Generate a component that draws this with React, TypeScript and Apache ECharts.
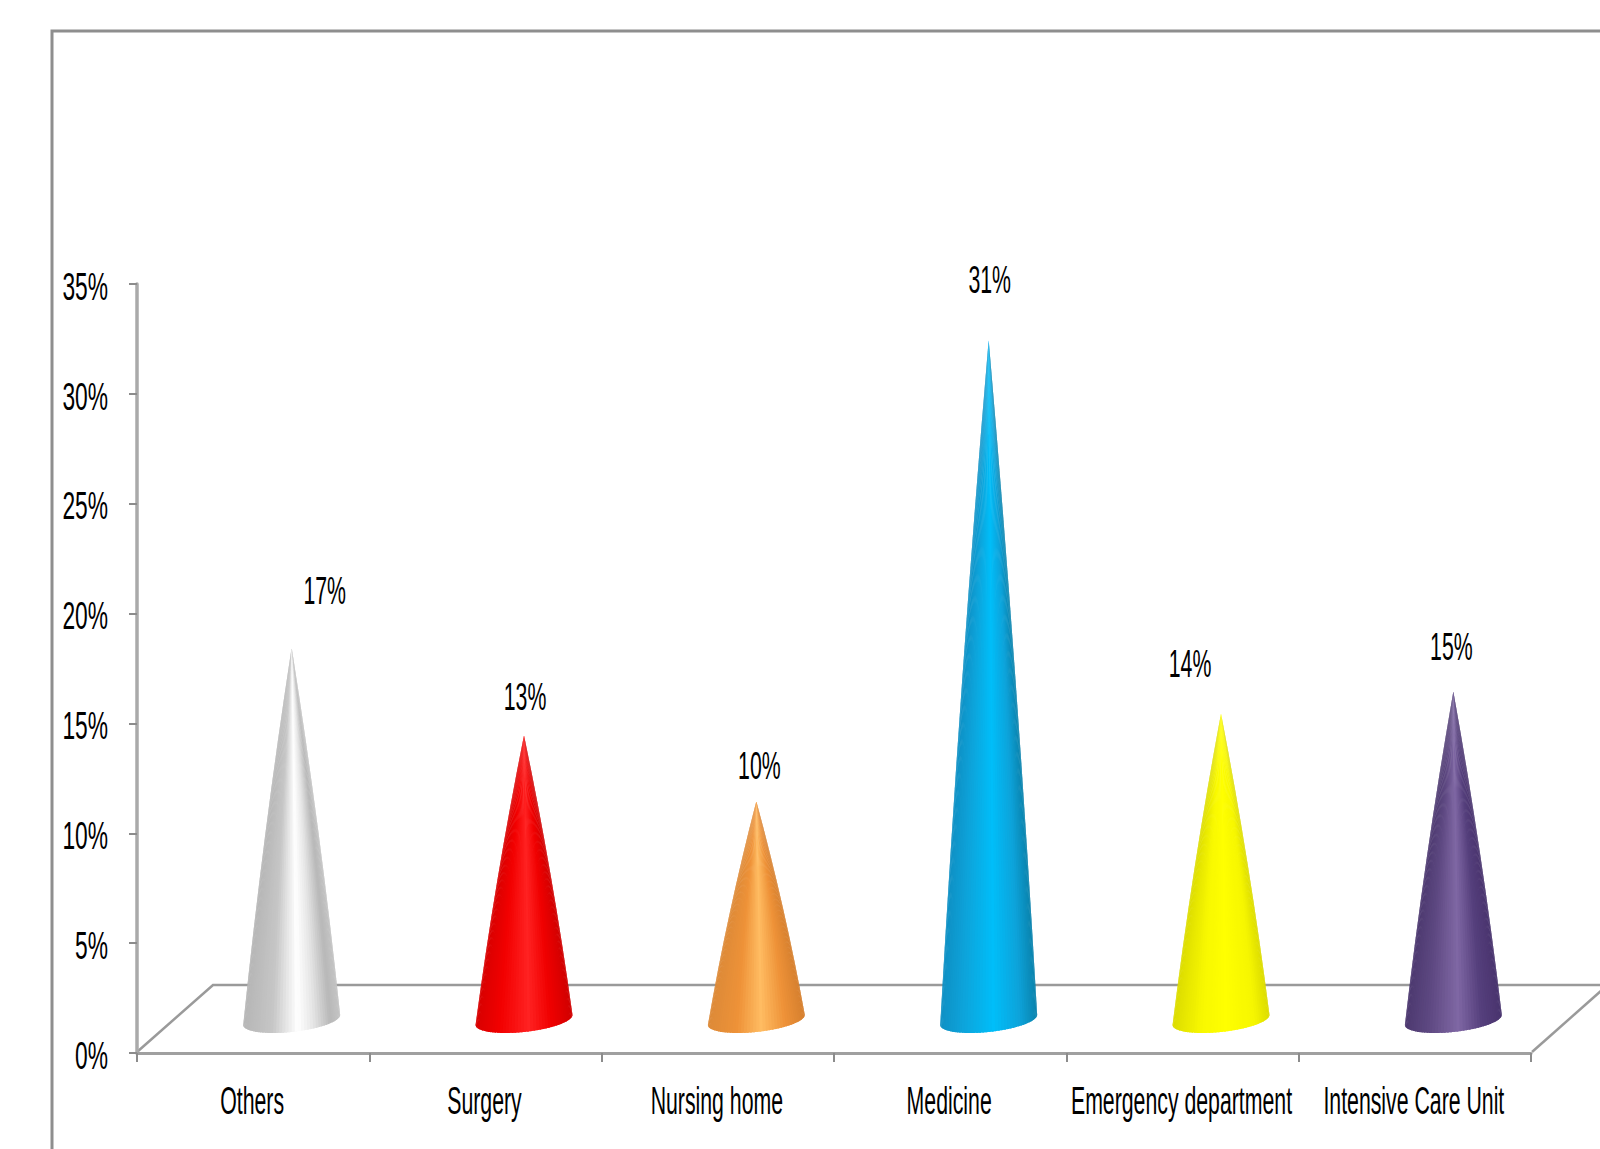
import React, { useEffect, useRef } from "react";
import * as echarts from "echarts";

// Share of cases by referring department, in percent.
const categories = [
  "Others",
  "Surgery",
  "Nursing home",
  "Medicine",
  "Emergency department",
  "Intensive Care Unit",
];
const shares = [17, 13, 10, 31, 14, 15];
const yTicks = [0, 5, 10, 15, 20, 25, 30, 35];

// Horizontal shading of each cone: [position across the base, colour].
const coneShades: [number, string][][] = [
  [[0, "#b6b6b6"], [0.3, "#c6c6c6"], [0.56, "#ffffff"], [0.72, "#e6e6e6"], [0.9, "#b8b8b8"], [1, "#c4c4c4"]],
  [[0, "#d80000"], [0.25, "#f20000"], [0.55, "#ff2222"], [0.78, "#f00000"], [1, "#d00000"]],
  [[0, "#dd8a38"], [0.3, "#ee9238"], [0.55, "#ffbc62"], [0.8, "#ee9238"], [1, "#d6802f"]],
  [[0, "#0f90c4"], [0.25, "#0da5dc"], [0.55, "#00bef9"], [0.82, "#0da3da"], [1, "#0a83ad"]],
  [[0, "#dcdc00"], [0.3, "#f8f800"], [0.55, "#ffff00"], [0.85, "#f6f600"], [1, "#dcdc00"]],
  [[0, "#4d3970"], [0.25, "#5e4982"], [0.55, "#7f67a4"], [0.8, "#553f7c"], [1, "#49346e"]],
];

// Value labels sit loosely around the apex of each cone.
const labelNudges: [number, number][] = [
  [33, -57],
  [1, -39],
  [3, -36],
  [1, -61],
  [-31, -50],
  [-2, -45],
];

const FONT = '"Liberation Sans Narrow", "Liberation Sans", sans-serif';
const TEXT_SIZE = 38;

const DEPTH_X = 38.5;
const DEPTH_Y = -32;
const BASE_RX = 48.5;
const BASE_RY = 12;
const BASE_TILT = 5;
const WEDGES = 48;
const SIDE_STEPS = 8;
const BULGE = 0.2;

function hexToRgb(hex: string): number[] {
  return [1, 3, 5].map((k) => parseInt(hex.slice(k, k + 2), 16));
}

function shadeAt(stops: [number, string][], t: number): string {
  let i = 0;
  while (i < stops.length - 2 && t > stops[i + 1][0]) i++;
  const [p0, c0] = stops[i];
  const [p1, c1] = stops[i + 1];
  const f = Math.min(1, Math.max(0, (t - p0) / (p1 - p0)));
  const a = hexToRgb(c0);
  const b = hexToRgb(c1);
  return `rgb(${a.map((v, k) => Math.round(v + (b[k] - v) * f)).join(",")})`;
}

function squeezedText(text: string, x: number, y: number, align: string, squeeze: number) {
  return {
    type: "text",
    x,
    y,
    scaleX: squeeze,
    z2: 5,
    style: {
      text,
      x: 0,
      y: 0,
      align,
      verticalAlign: "middle",
      fontFamily: FONT,
      fontSize: TEXT_SIZE,
      fill: "#000000",
    },
  };
}

function renderCone(params: any, api: any) {
  const index = params.dataIndex;
  const value = api.value(1);
  const top = api.coord([index, value]);
  const zero = api.coord([index, 0]);
  const cx = zero[0] + DEPTH_X;
  const apexY = top[1] + DEPTH_Y;
  const baseY = zero[1] + DEPTH_Y - 1;

  // A point on the cone's surface: f runs from apex (0) to rim (1), and the
  // flank swells slightly outward between the two.
  const surface = (angle: number, f: number) => {
    const spread = f * (1 + BULGE * (1 - f));
    const rimY = baseY - BASE_TILT * Math.cos(angle) + BASE_RY * Math.sin(angle);
    return [cx + BASE_RX * spread * Math.cos(angle), apexY + (rimY - apexY) * f];
  };

  // Wedges are painted left to right, each running over into the next strip
  // so that no seam shows through.
  const children: any[] = [];
  const step = Math.PI / WEDGES;
  for (let k = 0; k < WEDGES; k++) {
    const a0 = Math.PI - step * k;
    const a1 = Math.max(0, Math.PI - step * (k + 1.6));
    const mid = Math.cos(Math.PI - step * (k + 0.5));
    const colour = shadeAt(coneShades[index], (mid + 1) / 2);
    const points: number[][] = [[cx, apexY]];
    for (let s = 1; s <= SIDE_STEPS; s++) points.push(surface(a0, s / SIDE_STEPS));
    for (let s = SIDE_STEPS; s >= 1; s--) points.push(surface(a1, s / SIDE_STEPS));
    children.push({
      type: "polygon",
      shape: { points },
      style: { fill: colour },
    });
  }
  const [nx, ny] = labelNudges[index];
  children.push(squeezedText(`${value}%`, cx + nx, apexY + ny + 1, "center", 0.56));
  return { type: "group", children };
}

function renderYLabel(params: any, api: any) {
  const tick = api.value(0);
  const p = api.coord([0, tick]);
  return squeezedText(`${tick}%`, params.coordSys.x - 29, p[1] + 3, "right", 0.6);
}

function renderXLabel(params: any, api: any) {
  const p = api.coord([params.dataIndex, 0]);
  return squeezedText(categories[params.dataIndex], p[0] - 1, p[1] + 48, "center", 0.56);
}

export default function App() {
  const ref = useRef<HTMLDivElement>(null);

  useEffect(() => {
    const chart = echarts.init(ref.current!, null, { renderer: "svg" });
    const floorStyle = { fill: "none", stroke: "#9a9a9a", lineWidth: 2.5 };
    chart.setOption({
      animation: false,
      backgroundColor: "#ffffff",
      grid: { left: 137, top: 284, width: 1394, height: 769, containLabel: false },
      xAxis: {
        type: "category",
        data: categories,
        axisLine: { lineStyle: { color: "#a0a0a0", width: 3 } },
        axisTick: { show: true, length: 9, lineStyle: { color: "#8c8c8c", width: 2 } },
        axisLabel: { show: false },
        splitLine: { show: false },
      },
      yAxis: {
        type: "value",
        min: 0,
        max: 35,
        interval: 5,
        axisLine: { show: true, lineStyle: { color: "#aaaaaa", width: 3.5 } },
        axisTick: { show: true, length: 8, lineStyle: { color: "#8c8c8c", width: 2 } },
        axisLabel: { show: false },
        splitLine: { show: false },
      },
      graphic: [
        {
          type: "rect",
          shape: { x: 52, y: 31, width: 1620, height: 1200 },
          style: { fill: "none", stroke: "#8e8e8e", lineWidth: 3 },
        },
        {
          type: "polyline",
          shape: { points: [[137, 1052], [213, 985], [1600, 985]] },
          style: floorStyle,
        },
        {
          type: "line",
          shape: { x1: 1532, y1: 1052, x2: 1602, y2: 990 },
          style: floorStyle,
        },
      ],
      series: [
        {
          type: "custom",
          renderItem: renderCone,
          data: shares.map((v, i) => [i, v]),
          encode: { x: 0, y: 1 },
          z: 3,
        },
        {
          type: "custom",
          renderItem: renderYLabel,
          data: yTicks.map((v) => [v]),
          encode: { y: 0 },
          z: 4,
        },
        {
          type: "custom",
          renderItem: renderXLabel,
          data: categories.map((_, i) => [i]),
          encode: { x: 0 },
          z: 4,
        },
      ],
    });
    return () => chart.dispose();
  }, []);

  return (
    <div
      ref={ref}
      style={{ position: "fixed", left: 0, top: 0, width: 1600, height: 1149 }}
    />
  );
}
